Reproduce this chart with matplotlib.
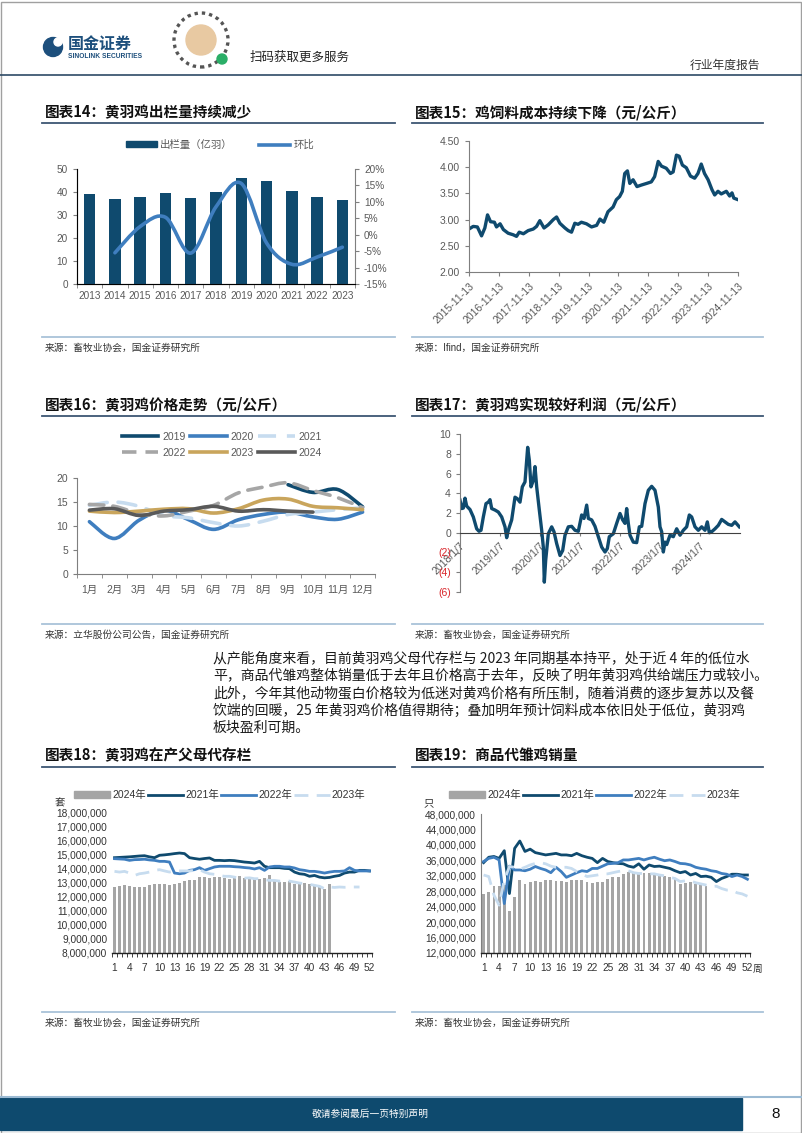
import numpy as np
import matplotlib
matplotlib.use("Agg")
import matplotlib.pyplot as plt
from matplotlib.path import Path
from matplotlib.patches import PathPatch, Patch, Rectangle, Ellipse
from matplotlib.lines import Line2D
from matplotlib.ticker import FuncFormatter

plt.rcParams['font.family'] = ['Liberation Sans', 'Noto Sans CJK SC']

# ---------------- data ----------------
# 图表14 黄羽鸡出栏量 (亿羽) and 环比 (%)
years14 = ['2013', '2014', '2015', '2016', '2017', '2018', '2019', '2020', '2021', '2022', '2023']
output14 = [39.0, 36.8, 37.7, 39.4, 37.2, 39.9, 45.9, 44.6, 40.6, 37.7, 36.4]
yoy14 = [-5.5, 2.5, 5.3, -5.6, 8.5, 15.6, -2.5, -9.0, -6.8, -3.8]

# 图表15 鸡饲料成本 (元/公斤), time in decimal years
t15 = [2015.87, 2016.01, 2016.15, 2016.29, 2016.40, 2016.49, 2016.59, 2016.72, 2016.79, 2016.91,
       2017.02, 2017.18, 2017.35, 2017.46, 2017.55, 2017.69, 2017.85, 2018.02, 2018.13, 2018.24,
       2018.38, 2018.52, 2018.69, 2018.80, 2018.91, 2019.08, 2019.19, 2019.30, 2019.41, 2019.52,
       2019.63, 2019.80, 2019.97, 2020.14, 2020.25, 2020.38, 2020.52, 2020.69, 2020.80, 2020.91,
       2021.00, 2021.08, 2021.17, 2021.25, 2021.36, 2021.49, 2021.64, 2021.81, 2021.97, 2022.08,
       2022.20, 2022.31, 2022.47, 2022.61, 2022.70, 2022.81, 2022.90, 2023.01, 2023.14, 2023.28,
       2023.42, 2023.53, 2023.64, 2023.75, 2023.87, 2024.00, 2024.09, 2024.20, 2024.31, 2024.48,
       2024.59, 2024.67, 2024.73, 2024.87]
cost15 = [2.82, 2.87, 2.86, 2.69, 2.84, 3.09, 2.96, 2.95, 2.86, 2.92,
          2.81, 2.74, 2.71, 2.68, 2.76, 2.73, 2.79, 2.82, 2.87, 2.98,
          2.84, 2.90, 3.00, 3.05, 2.93, 2.84, 2.79, 2.76, 2.93, 2.91,
          2.95, 2.92, 2.86, 2.89, 3.01, 2.95, 3.15, 3.24, 3.38, 3.44,
          3.54, 3.88, 3.93, 3.69, 3.76, 3.63, 3.66, 3.69, 3.72, 3.82,
          4.11, 4.02, 3.98, 3.88, 3.91, 4.23, 4.21, 4.04, 3.99, 3.83,
          3.79, 3.88, 4.06, 3.88, 3.76, 3.57, 3.47, 3.54, 3.49, 3.54,
          3.45, 3.51, 3.41, 3.38]
dates15 = ['2015-11-13', '2016-11-13', '2017-11-13', '2018-11-13', '2019-11-13',
           '2020-11-13', '2021-11-13', '2022-11-13', '2023-11-13', '2024-11-13']

# 图表16 黄羽鸡价格 (元/公斤) by month
months16 = ['1月', '2月', '3月', '4月', '5月', '6月', '7月', '8月', '9月', '10月', '11月', '12月']
nan = np.nan
price16 = {
    '2019': [nan, nan, nan, nan, nan, nan, nan, nan, 18.6, 17.0, 17.6, 14.0],
    '2020': [10.9, 7.4, 11.2, 13.3, 11.3, 9.3, 11.3, 12.4, 12.9, 11.9, 11.4, 12.9],
    '2021': [14.3, 15.0, 14.1, 12.2, 11.7, 10.7, 10.0, 11.0, 12.4, 12.9, 13.4, 13.8],
    '2022': [14.5, 14.1, 12.6, 12.1, 13.1, 14.3, 16.9, 18.1, 19.0, 17.4, 15.9, 13.8],
    '2023': [13.1, 12.8, 13.1, 13.5, 13.6, 12.7, 13.6, 15.4, 15.6, 14.1, 13.8, 13.4],
    '2024': [13.3, 13.6, 12.2, 13.1, 13.4, 14.1, 13.1, 13.4, 13.1, 12.9, nan, nan],
}

# 图表17 黄羽鸡利润 (元/公斤)
t17 = [2018.000, 2018.042, 2018.083, 2018.125, 2018.167, 2018.250, 2018.333, 2018.417, 2018.475, 2018.525,
       2018.583, 2018.650, 2018.708, 2018.750, 2018.792, 2018.875, 2018.958, 2019.042, 2019.125, 2019.167,
       2019.208, 2019.292, 2019.375, 2019.433, 2019.500, 2019.558, 2019.625, 2019.692, 2019.733, 2019.775,
       2019.833, 2019.875, 2019.917, 2019.983, 2020.042, 2020.083, 2020.108, 2020.142, 2020.208, 2020.292,
       2020.350, 2020.417, 2020.500, 2020.567, 2020.625, 2020.708, 2020.792, 2020.875, 2020.958, 2021.042,
       2021.100, 2021.167, 2021.208, 2021.292, 2021.375, 2021.458, 2021.542, 2021.625, 2021.683, 2021.733,
       2021.833, 2021.917, 2022.000, 2022.067, 2022.125, 2022.167, 2022.208, 2022.250, 2022.333, 2022.417,
       2022.483, 2022.542, 2022.625, 2022.708, 2022.792, 2022.875, 2022.958, 2023.000, 2023.042, 2023.083,
       2023.125, 2023.167, 2023.250, 2023.333, 2023.417, 2023.500, 2023.583, 2023.667, 2023.733, 2023.792,
       2023.875, 2023.958, 2024.042, 2024.125, 2024.183, 2024.233, 2024.292, 2024.375, 2024.458, 2024.542,
       2024.625, 2024.708, 2024.792, 2024.875, 2024.983]
profit17 = [3.3, 2.45, 2.5, 3.5, 2.7, 2.35, 1.6, 0.4, 0.15, 0.25,
            1.6, 2.95, 3.1, 3.35, 2.45, 2.3, 2.1, 1.6, 0.6, -0.5,
            0.25, 1.3, 3.6, 3.45, 3.1, 4.65, 5.15, 8.65, 7.35, 4.65,
            5.3, 6.7, 4.65, 2.3, 0.25, -1.45, -5.0, -2.8, -0.1, 0.6,
            0.1, -1.1, -2.3, -1.8, -0.25, 0.6, 0.65, 0.25, 0.15, 1.8,
            1.45, 2.8, 1.45, 1.3, 0.65, -0.4, -1.45, -1.95, -1.6, -0.4,
            -0.1, 0.95, 1.95, 1.3, 0.95, 2.45, 0.95, -0.25, -0.95, -1.0,
            0.6, 0.65, 2.95, 4.3, 4.7, 4.3, 2.6, 0.6, 0.1, -1.95,
            -0.95, -1.2, -0.25, -0.4, 0.4, -0.25, 0.25, 0.6, 1.8, 1.6,
            0.6, 0.25, 0.6, 0.25, 1.1, 0.0, 0.1, 0.4, 0.75, 1.35,
            1.1, 0.85, 0.75, 1.1, 0.6]
dates17 = ['2018/1/7', '2019/1/7', '2020/1/7', '2021/1/7', '2022/1/7', '2023/1/7', '2024/1/7']

# 图表18 在产父母代存栏 (百万套), weeks 1-52
stock18_2024 = [12.68, 12.75, 12.80, 12.73, 12.68, 12.68, 12.68, 12.85, 12.87, 12.87,
                12.87, 12.80, 12.87, 12.96, 13.10, 13.20, 13.15, 13.38, 13.38, 13.31,
                13.38, 13.38, 13.33, 13.27, 13.44, 13.44, 13.33, 13.38, 13.27, 13.22,
                13.33, 13.50, 13.15, 13.03, 13.03, 13.08, 12.92, 13.03, 12.96, 12.92,
                12.80, 12.73, 12.56, 12.92]
stock18_2021 = [14.76, 14.78, 14.80, 14.82, 14.85, 14.88, 14.90, 14.82, 14.76, 14.93,
                14.96, 15.00, 15.05, 15.09, 15.05, 14.76, 14.70, 14.65, 14.70, 14.74,
                14.57, 14.57, 14.55, 14.57, 14.55, 14.50, 14.45, 14.42, 14.38, 14.50,
                14.15, 14.05, 14.05, 14.05, 14.00, 13.98, 13.74, 13.62, 13.58, 13.44,
                13.50, 13.38, 13.33, 13.36, 13.44, 13.50, 13.67, 13.74, 13.74, 13.86,
                13.86, 13.82]
stock18_2022 = [14.69, 14.67, 14.65, 14.57, 14.62, 14.63, 14.65, 14.60, 14.57, 14.50,
                14.50, 14.45, 13.67, 13.62, 13.67, 13.86, 13.91, 14.05, 13.86, 13.98,
                14.10, 14.15, 14.15, 14.15, 14.12, 14.10, 14.06, 14.03, 13.96, 14.05,
                13.86, 14.10, 14.15, 14.15, 14.10, 14.10, 14.03, 13.91, 13.86, 13.79,
                13.79, 13.74, 13.67, 13.74, 13.79, 13.79, 13.82, 14.05, 13.86, 13.82,
                13.82, 13.82]
stock18_2023 = [13.79, 13.74, 13.79, 13.67, 13.50, 13.62, 13.67, 13.74, 13.86, 13.91,
                13.82, 13.74, 13.82, 13.82, 13.82, 13.82, 13.86, 13.91, 13.74, 13.62,
                13.58, 13.50, 13.44, 13.44, 13.38, 13.31, 13.31, 13.33, 13.27, 13.27,
                13.20, 13.15, 13.15, 13.10, 13.15, 13.10, 13.03, 12.96, 12.92, 12.87,
                12.80, 12.73, 12.56, 12.68, 12.65, 12.68, 12.66, 12.68, 12.68, 12.68,
                nan, nan]

# 图表19 商品代雏鸡销量 (百万只), weeks 1-52
sales19_2024 = [27.4, 27.9, 29.3, 29.3, 29.5, 22.9, 26.6, 30.9, 29.9, 30.5,
                30.6, 30.5, 30.9, 30.9, 30.7, 30.7, 30.5, 30.9, 30.9, 30.9,
                30.5, 30.2, 30.5, 30.5, 31.1, 31.6, 31.8, 32.5, 33.1, 33.1,
                32.6, 32.8, 32.8, 32.2, 32.2, 31.9, 31.8, 31.1, 29.9, 30.2,
                30.5, 29.9, 29.9, 29.3]
sales19_2021 = [35.4, 36.8, 37.0, 36.5, 38.5, 27.4, 39.1, 41.0, 38.3, 38.9,
                38.0, 37.7, 37.4, 37.6, 37.8, 37.4, 37.4, 37.2, 37.8, 37.2,
                36.8, 36.5, 35.4, 36.5, 35.7, 35.4, 35.2, 35.1, 34.5, 34.2,
                35.1, 33.7, 34.8, 34.4, 34.5, 34.2, 33.9, 33.3, 32.8, 33.1,
                32.2, 32.6, 31.8, 31.9, 31.6, 30.5, 31.3, 31.8, 32.4, 32.4,
                32.2, 32.2]
sales19_2022 = [35.7, 36.5, 36.8, 36.1, 24.8, 34.5, 33.5, 33.5, 33.3, 33.7,
                34.4, 33.9, 33.5, 32.8, 34.2, 33.1, 31.6, 32.2, 32.8, 33.3,
                33.1, 33.9, 33.9, 34.5, 35.1, 35.2, 35.4, 36.1, 36.1, 36.3,
                36.5, 36.1, 36.5, 36.8, 36.3, 35.9, 36.1, 35.7, 35.2, 35.1,
                34.8, 34.2, 33.9, 33.7, 33.3, 33.1, 32.6, 32.4, 31.8, 32.2,
                31.8, 31.1]
sales19_2023 = [32.2, 31.8, 27.0, 24.4, 30.9, 34.4, 34.2, 33.7, 34.2, 34.8,
                35.2, 35.4, 35.1, 34.5, 34.2, 34.2, 34.2, 33.9, 33.1, 32.5,
                31.8, 32.0, 32.2, 32.5, 32.5, 32.8, 33.1, 33.3, 33.3, 32.8,
                32.6, 32.6, 32.5, 32.5, 32.2, 32.0, 31.6, 31.3, 30.5, 30.7,
                30.7, 30.2, 29.9, 29.6, 29.2, 29.3, 28.7, 28.3, 28.3, 27.6,
                27.3, 26.7]

paragraph = [
    '从产能角度来看，目前黄羽鸡父母代存栏与 2023 年同期基本持平，处于近 4 年的低位水',
    '平，商品代雏鸡整体销量低于去年且价格高于去年，反映了明年黄羽鸡供给端压力或较小。',
    '此外，今年其他动物蛋白价格较为低迷对黄鸡价格有所压制，随着消费的逐步复苏以及餐',
    '饮端的回暖，25 年黄羽鸡价格值得期待；叠加明年预计饲料成本依旧处于低位，黄羽鸡',
    '板块盈利可期。',
]

# ---------------- styling ----------------
NAVY = '#0f4a6e'
BLUE = '#3f7ebf'
LIGHT = '#c7dcef'
GRAY_D = '#a6a6a6'
GOLD = '#c9a55c'
DGRAY = '#595959'
BAR_GRAY = '#a5a5a5'
TXT = '#595959'
RULE = '#3d5673'
SEP = '#a9c3d9'
CJK = ['Noto Sans CJK SC']

W, H = 802, 1133
fig = plt.figure(figsize=(W / 100, H / 100), dpi=100)


def px_axes(x0, y0, x1, y1):
    return fig.add_axes([x0 / W, 1 - y1 / H, (x1 - x0) / W, (y1 - y0) / H])


def txt(x, y, s, **kw):
    kw.setdefault('va', 'center')
    fig.text(x / W, 1 - y / H, s, **kw)


def hline(x0, x1, y, color, lw):
    fig.add_artist(Line2D([x0 / W, x1 / W], [1 - y / H, 1 - y / H], color=color, lw=lw))


def dot(x, y, d, **kw):
    # round shape given in page pixels
    fig.add_artist(Ellipse((x / W, 1 - y / H), d / W, d / H, transform=fig.transFigure, **kw))


def smooth(ax, x, y, **kw):
    # Excel style smoothed line through the points
    pts = np.column_stack([x, y]).astype(float)
    pts = pts[~np.isnan(pts[:, 1])]
    verts = [pts[0]]
    codes = [Path.MOVETO]
    n = len(pts)
    for i in range(n - 1):
        p0, p1, p2, p3 = pts[max(i - 1, 0)], pts[i], pts[i + 1], pts[min(i + 2, n - 1)]
        verts += [p1 + (p2 - p0) / 6, p2 - (p3 - p1) / 6, p2]
        codes += [Path.CURVE4] * 3
    ax.add_patch(PathPatch(Path(verts, codes), fill=False, capstyle='round', **kw))


def base_style(ax, size=7.5):
    ax.tick_params(labelsize=size, labelcolor=TXT, color='#7f7f7f', length=3, width=0.8)
    for s in ['top', 'right']:
        ax.spines[s].set_visible(False)
    for s in ['left', 'bottom']:
        ax.spines[s].set_color('#7f7f7f')
        ax.spines[s].set_linewidth(0.8)


# ---------------- page frame ----------------
fig.add_artist(Rectangle((0.5 / W, 0.5 / H), (W - 2) / W, (H - 2) / H, transform=fig.transFigure,
                         fill=False, ec='#a0a0a0', lw=1))
# logo
dot(53, 47, 19, color='#1d4f7c')
dot(58, 42, 8, color='white')
txt(68, 44, '国金证券', fontsize=11.5, fontweight='bold', color='#1d4f7c', family=CJK)
txt(68, 56, 'SINOLINK SECURITIES', fontsize=4.8, fontweight='bold', color='#1d4f7c')
# QR badge
dot(201, 40, 54, fill=False, ec='#555555', lw=2.4, ls=(0, (1, 1.2)))
dot(201, 40, 30, color='#e8c9a2')
dot(222, 59, 10, color='#2aae67')
txt(250, 57, '扫码获取更多服务', fontsize=9, color='#222222', family=CJK)
txt(760, 65, '行业年度报告', fontsize=8.5, color='#333333', ha='right', family=CJK)
hline(0, W, 75, '#2d4a66', 1.2)

# titles, rules, sources
titles = [(45, 112, '图表14：黄羽鸡出栏量持续减少'), (415, 112, '图表15：鸡饲料成本持续下降（元/公斤）'),
          (45, 404, '图表16：黄羽鸡价格走势（元/公斤）'), (415, 404, '图表17：黄羽鸡实现较好利润（元/公斤）'),
          (45, 755, '图表18：黄羽鸡在产父母代存栏'), (415, 755, '图表19：商品代雏鸡销量')]
for x, y, s in titles:
    txt(x, y, s, fontsize=10.5, fontweight='bold', color='#111111', family=CJK)
for y in [123, 416, 767]:
    hline(42, 395, y, RULE, 1.3)
    hline(412, 763, y, RULE, 1.3)
for y in [337, 624, 1012]:
    hline(42, 395, y, SEP, 1.3)
    hline(412, 763, y, SEP, 1.3)
sources = [(45, 348, '来源：畜牧业协会，国金证券研究所'), (415, 348, '来源：Ifind，国金证券研究所'),
           (45, 635, '来源：立华股份公司公告，国金证券研究所'), (415, 635, '来源：畜牧业协会，国金证券研究所'),
           (45, 1023, '来源：畜牧业协会，国金证券研究所'), (415, 1023, '来源：畜牧业协会，国金证券研究所')]
for x, y, s in sources:
    txt(x, y, s, fontsize=7, color='#333333')

for i, line in enumerate(paragraph):
    txt(213, 658 + 17.5 * i, line, fontsize=10, color='#1a1a1a', family=CJK)

# footer
hline(0, W, 1097, '#9bbad3', 1.5)
fig.add_artist(Rectangle((0, 1 - 1130 / H), 742 / W, 32 / H, transform=fig.transFigure, color='#0e4a6e'))
txt(370, 1114, '敬请参阅最后一页特别声明', fontsize=7, color='white', ha='center', family=CJK)
txt(776, 1114, '8', fontsize=11, color='#111111', ha='center')

# ---------------- 图表14 ----------------
ax = px_axes(77, 169, 355, 284)
xs = np.arange(len(years14))
ax.bar(xs, output14, width=0.45, color=NAVY)
base_style(ax, 7.2)
ax.set_xlim(-0.5, len(xs) - 0.5)
ax.set_ylim(0, 50)
ax.set_yticks(range(0, 51, 10))
ax.set_xticks(xs, years14)
ax.set_xticks(np.arange(-0.5, len(xs), 1), minor=True)
ax.tick_params(axis='x', which='major', length=0, pad=5)
ax.tick_params(axis='x', which='minor', length=3, color='#7f7f7f')
ax2 = ax.twinx()
ax2.set_ylim(-15, 20)
ax2.set_yticks(range(-15, 21, 5))
ax2.yaxis.set_major_formatter(FuncFormatter(lambda v, p: f'{int(v)}%'))
ax2.tick_params(labelsize=7.2, labelcolor=TXT, color='#7f7f7f', length=3)
ax2.spines['top'].set_visible(False)
ax2.spines['right'].set_color('#7f7f7f')
smooth(ax2, xs[1:], yoy14, color=BLUE, lw=2.6)
fig.legend([Patch(color=NAVY), Line2D([], [], color=BLUE, lw=2.6)], ['出栏量（亿羽）', '环比'],
           loc='center', bbox_to_anchor=(220 / W, 1 - 145 / H), ncol=2, frameon=False,
           fontsize=7.5, labelcolor=TXT, handlelength=3.0, handleheight=0.5,
           columnspacing=2.5, handletextpad=0.3)

# ---------------- 图表15 ----------------
ax = px_axes(469, 141, 738, 272)
ax.plot(t15, cost15, color=NAVY, lw=2.4, solid_joinstyle='round')
base_style(ax, 7.5)
ax.set_xlim(t15[0], t15[0] + 9)
ax.set_ylim(2, 4.5)
ax.set_yticks(np.arange(2, 4.51, 0.5))
ax.yaxis.set_major_formatter(FuncFormatter(lambda v, p: f'{v:.2f}'))
ax.set_xticks([t15[0] + k for k in range(len(dates15))])
ax.set_xticklabels(dates15, rotation=45, ha='right', va='top', rotation_mode='anchor')

# ---------------- 图表16 ----------------
ax = px_axes(77, 478, 375, 574)
xs = np.arange(len(months16))
styles16 = {'2019': dict(color=NAVY, lw=2.6), '2020': dict(color=BLUE, lw=2.6),
            '2021': dict(color=LIGHT, lw=2.6, ls=(0, (5, 3))),
            '2022': dict(color=GRAY_D, lw=2.6, ls=(0, (4, 2.5))),
            '2023': dict(color=GOLD, lw=2.6), '2024': dict(color=DGRAY, lw=2.6)}
for yr, vals in price16.items():
    smooth(ax, xs, vals, **styles16[yr])
base_style(ax, 7.5)
ax.set_xlim(-0.5, len(xs) - 0.5)
ax.set_ylim(0, 20)
ax.set_yticks(range(0, 21, 5))
ax.set_xticks(xs, months16)
ax.set_xticks(np.arange(-0.5, len(xs), 1), minor=True)
ax.tick_params(axis='x', which='major', length=0, pad=8)
ax.tick_params(axis='x', which='minor', length=3, color='#7f7f7f')
order = ['2019', '2022', '2020', '2023', '2021', '2024']
fig.legend([Line2D([], [], **styles16[k]) for k in order], order, loc='center',
           bbox_to_anchor=(222 / W, 1 - 445 / H), ncol=3, frameon=False, fontsize=7.5,
           labelcolor=TXT, handlelength=3.5, columnspacing=0.4, handletextpad=0.4,
           labelspacing=0.6)

# ---------------- 图表17 ----------------
ax = px_axes(460, 434, 740, 592)
ax.plot(t17, profit17, color=NAVY, lw=2.4, solid_joinstyle='round')
base_style(ax, 7.5)
ax.spines['bottom'].set_position(('data', 0))
ax.spines['bottom'].set_color('#404040')
ax.set_xlim(2018, 2025)
ax.set_ylim(-6, 10)
ax.set_yticks(range(-6, 11, 2))
ax.set_yticklabels([f'({-v})' if v < 0 else str(v) for v in range(-6, 11, 2)])
for lab, v in zip(ax.get_yticklabels(), range(-6, 11, 2)):
    if v < 0:
        lab.set_color('#d9262b')
ax.set_xticks(range(2018, 2025))
ax.set_xticklabels(dates17, rotation=45, ha='right', va='top', rotation_mode='anchor')
ax.tick_params(axis='x', length=2)

# ---------------- 图表18 / 图表19 ----------------
weeks = np.arange(1, 53)


def week_chart(rect, bars, s21, s22, s23, lo, hi, step, unit, unit_xy, legend_xy, with_left):
    ax = px_axes(*rect)
    ax.bar(weeks[:len(bars)], np.array(bars) * 1e6, width=0.55, color=BAR_GRAY)
    ax.plot(weeks, np.array(s21) * 1e6, color=NAVY, lw=2)
    ax.plot(weeks, np.array(s22) * 1e6, color=BLUE, lw=2)
    ax.plot(weeks, np.array(s23) * 1e6, color=LIGHT, lw=2, ls=(0, (5, 3)))
    base_style(ax, 7.3)
    ax.tick_params(labelcolor='#333333')
    ax.spines['left'].set_visible(with_left)
    ax.spines['bottom'].set_color('#222222')
    ax.spines['bottom'].set_linewidth(1.0)
    ax.set_xlim(0.5, 52.5)
    ax.set_ylim(lo, hi)
    ax.set_yticks(np.arange(lo, hi + 1, step))
    ax.yaxis.set_major_formatter(FuncFormatter(lambda v, p: f'{int(v):,}'))
    ax.tick_params(axis='y', length=0)
    ax.set_xticks(range(1, 53, 3))
    ax.set_xticks(np.arange(0.5, 53, 1), minor=True)
    ax.tick_params(axis='x', which='major', length=0, pad=7)
    ax.tick_params(axis='x', which='minor', length=3, color='#222222')
    txt(unit_xy[0], unit_xy[1], unit, fontsize=7.5, color='#333333', family=CJK)
    fig.legend([Patch(color=BAR_GRAY), Line2D([], [], color=NAVY, lw=2),
                Line2D([], [], color=BLUE, lw=2), Line2D([], [], color=LIGHT, lw=2, ls=(0, (5, 3)))],
               ['2024年', '2021年', '2022年', '2023年'], loc='center',
               bbox_to_anchor=(legend_xy[0] / W, 1 - legend_xy[1] / H), ncol=4, frameon=False,
               fontsize=7.5, labelcolor='#333333', handlelength=3.4, handleheight=0.6,
               columnspacing=0.2, handletextpad=0.2)
    return ax


week_chart((112, 812, 372, 953), stock18_2024, stock18_2021, stock18_2022, stock18_2023,
           8e6, 18e6, 1e6, '套', (55, 803), (220, 795), False)
week_chart((481, 814, 750, 953), sales19_2024, sales19_2021, sales19_2022, sales19_2023,
           12e6, 48e6, 4e6, '只', (424, 803), (595, 795), True)
txt(753, 969, '周', fontsize=7, color='#333333', family=CJK)

fig.savefig('out.png', dpi=100)
